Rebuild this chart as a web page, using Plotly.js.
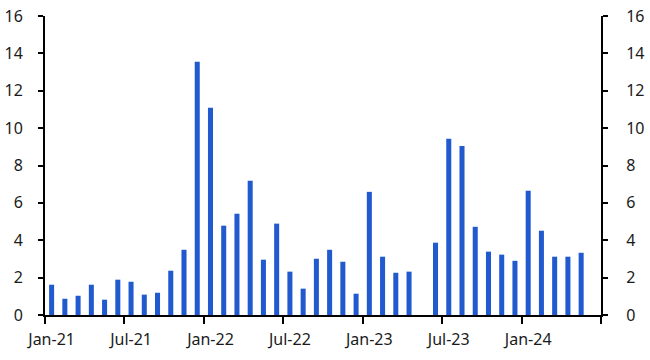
<!DOCTYPE html>
<html>
<head>
<meta charset="utf-8">
<script src="https://cdn.plot.ly/plotly-3.0.1.min.js"></script>
<style>html,body{margin:0;padding:0;background:#fff;}#chart{width:650px;height:360px;}</style>
</head>
<body>
<div id="chart"></div>
<script>
const months = ["Jan-21","Feb-21","Mar-21","Apr-21","May-21","Jun-21","Jul-21","Aug-21","Sep-21","Oct-21","Nov-21","Dec-21",
  "Jan-22","Feb-22","Mar-22","Apr-22","May-22","Jun-22","Jul-22","Aug-22","Sep-22","Oct-22","Nov-22","Dec-22",
  "Jan-23","Feb-23","Mar-23","Apr-23","May-23","Jun-23","Jul-23","Aug-23","Sep-23","Oct-23","Nov-23","Dec-23",
  "Jan-24","Feb-24","Mar-24","Apr-24","May-24","Jun-24"];
const values = [1.62,0.87,1.03,1.62,0.82,1.89,1.78,1.09,1.19,2.37,3.49,13.55,
  11.09,4.78,5.42,7.18,2.96,4.89,2.32,1.41,3.01,3.49,2.85,1.14,
  6.59,3.12,2.26,2.32,null,3.87,9.43,9.05,4.72,3.39,3.23,2.9,
  6.65,4.51,3.12,3.12,3.33,null];
const yTicks = [0,2,4,6,8,10,12,14,16];

const font = {family: "Noto Sans, sans-serif", size: 16, color: "#1a1a1a"};
const bars = {
  type: "bar", x: months, y: values, width: 0.38,
  marker: {color: "#2159cf"}, hoverinfo: "skip"
};
// invisible companion so the right-hand axis is drawn
const rightAxisHolder = {
  type: "scatter", mode: "markers", x: months, y: values, yaxis: "y2",
  marker: {opacity: 0}, hoverinfo: "skip", showlegend: false
};
const yBase = {
  range: [0, 16], tickvals: yTicks, showgrid: false, zeroline: false,
  showline: true, linecolor: "#000", linewidth: 2,
  ticks: "outside", ticklen: 5, tickwidth: 2, tickcolor: "#000",
  tickfont: font, fixedrange: true
};
const layout = {
  width: 650, height: 360,
  margin: {l: 45, r: 49, t: 16, b: 45},
  paper_bgcolor: "#fff", plot_bgcolor: "#fff",
  showlegend: false, font: font,
  xaxis: {
    type: "category", range: [-0.5, 41.5], tickmode: "linear", tick0: 0, dtick: 6,
    tickson: "boundaries", ticks: "outside", ticklen: 7, tickwidth: 2, tickcolor: "#000",
    showline: true, linecolor: "#000", linewidth: 2, showgrid: false, zeroline: false,
    tickfont: font, tickangle: 0, fixedrange: true, ticklabelstandoff: 9
  },
  yaxis: Object.assign({}, yBase, {side: "left", ticklabelstandoff: 12}),
  yaxis2: Object.assign({}, yBase, {side: "right", overlaying: "y", anchor: "x", ticklabelstandoff: 15})
};
Plotly.newPlot("chart", [bars, rightAxisHolder], layout, {staticPlot: true, displayModeBar: false});
</script>
</body>
</html>
